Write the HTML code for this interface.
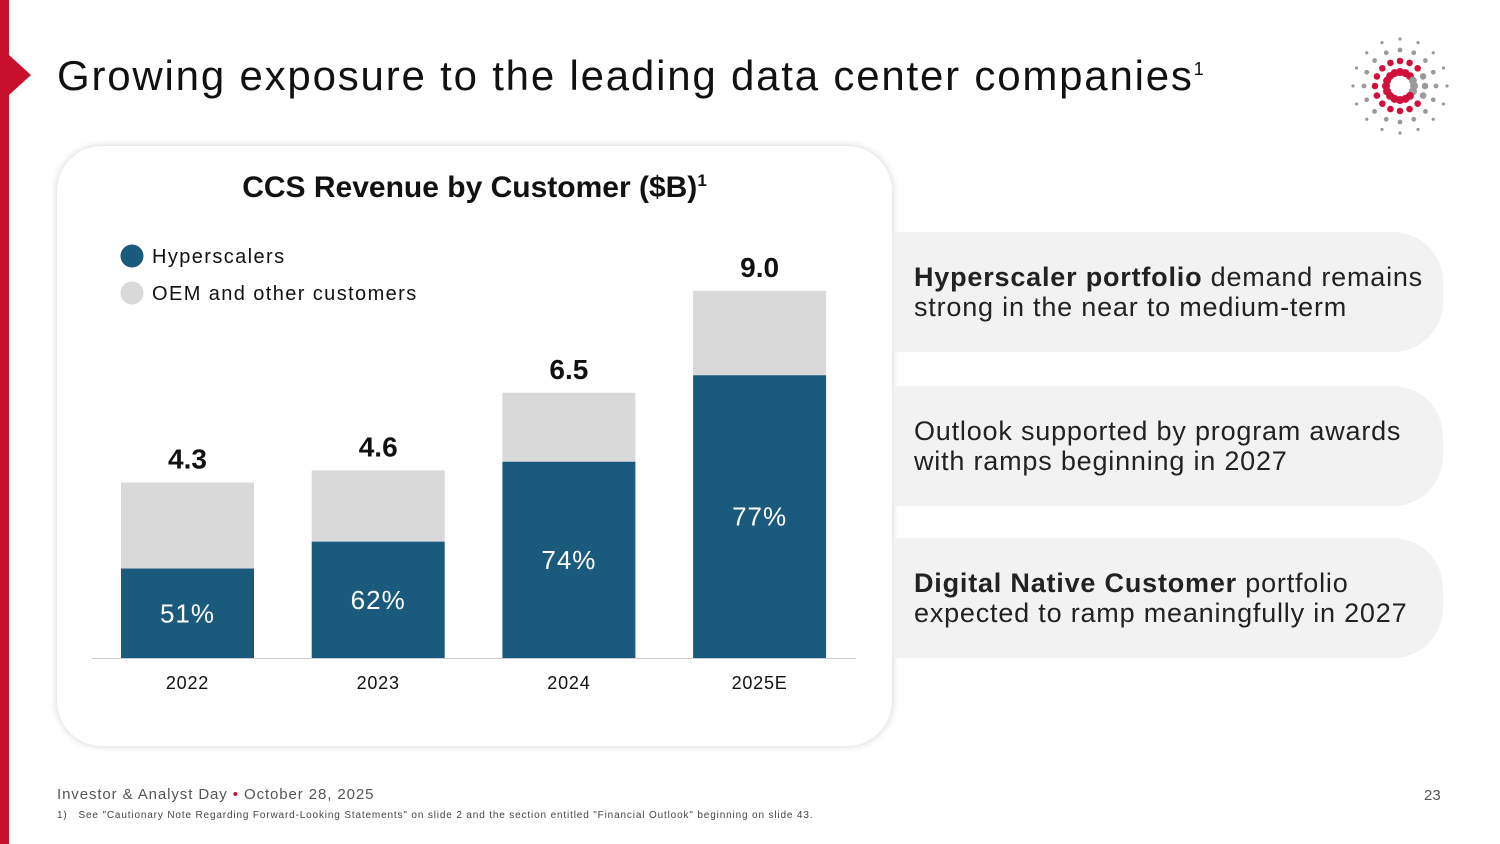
<!DOCTYPE html>
<html><head><meta charset="utf-8"><style>
body{margin:0;width:1500px;height:844px;background:#fff;font-family:"Liberation Sans",sans-serif;position:relative;overflow:hidden}
.abs{position:absolute}
.panel{position:absolute;left:893px;width:550px;height:120px;background:#f2f2f2;border-radius:0 50px 50px 0;font-size:27px;color:#222;box-sizing:border-box;padding-left:21px;line-height:30px;display:flex;flex-direction:column;justify-content:center;letter-spacing:0.8px}
</style></head><body>
<div class="abs" style="left:0;top:0;width:9px;height:844px;background:#c8102e"></div>
<div class="abs" style="left:9px;top:55px;width:0;height:0;border-top:20px solid transparent;border-bottom:20px solid transparent;border-left:22px solid #c8102e"></div>
<div class="abs" style="left:57px;top:52px;font-size:42px;color:#111;letter-spacing:1.8px">Growing exposure to the leading data center companies<sup style="font-size:18px">1</sup></div>
<svg class="abs" style="left:1345px;top:30px" width="110" height="110" id="logo"></svg>

<div class="abs" style="left:57px;top:146px;width:835px;height:600px;border-radius:45px;background:#fff;box-shadow:0 0 8px rgba(0,0,0,0.18)"></div>
<div class="abs" style="left:57px;width:835px;text-align:center;top:171px;font-size:30px;font-weight:bold;color:#111">CCS Revenue by Customer ($B)<sup style="font-size:17px">1</sup></div>
<svg class="abs" id="chart" style="left:0;top:0" width="900" height="760"></svg>

<div class="panel" style="top:232px"><div><b>Hyperscaler portfolio</b> demand remains</div><div>strong in the near to medium-term</div></div>
<div class="panel" style="top:386px"><div>Outlook supported by program awards</div><div>with ramps beginning in 2027</div></div>
<div class="panel" style="top:538px"><div><b>Digital Native Customer</b> portfolio</div><div>expected to ramp meaningfully in 2027</div></div>

<div class="abs" style="left:57px;top:786px;font-size:15px;color:#555;letter-spacing:0.9px">Investor &amp; Analyst Day <span style="color:#c8102e">•</span> October 28, 2025</div>
<div class="abs" style="left:57px;top:810px;font-size:10px;color:#444;letter-spacing:0.85px">1)&nbsp;&nbsp; See "Cautionary Note Regarding Forward-Looking Statements" on slide 2 and the section entitled "Financial Outlook" beginning on slide 43.</div>
<div class="abs" style="left:1424px;top:787px;font-size:15px;color:#555">23</div>
<script>
const categories=["2022","2023","2024","2025E"];
const totals=[4.3,4.6,6.5,9.0];
const hyperShare=[51,62,74,77];
const totalLabels=["4.3","4.6","6.5","9.0"];
const NS="http://www.w3.org/2000/svg";
const svg=document.getElementById('chart');
const base=658, pxPer=40.8, barW=133, x0=121, step=190.7;
function y(v){return base-v*pxPer;}
function bx(i){return x0+i*step;}
function mk(t,a,parent){const e=document.createElementNS(NS,t);for(const k in a)e.setAttribute(k,a[k]);(parent||svg).appendChild(e);return e;}
categories.forEach((c,i)=>{
 const h=totals[i]*hyperShare[i]/100;
 let r=mk('rect',{x:bx(i),y:y(totals[i]),width:barW,height:totals[i]*pxPer-h*pxPer,fill:'#d9d9d9'});
 
 
 r=mk('rect',{x:bx(i),y:y(h),width:barW,height:h*pxPer,fill:'#1a5a7c'});
 
 
 let t=mk('text',{x:bx(i)+barW/2,y:y(h/2)+9,'text-anchor':'middle','font-size':26,fill:'#fff','font-family':'Liberation Sans','letter-spacing':1});t.textContent=hyperShare[i]+'%';
 
 
 t=mk('text',{x:bx(i)+barW/2,y:y(totals[i])-14,'text-anchor':'middle','font-size':28,'font-weight':'bold',fill:'#111','font-family':'Liberation Sans'});t.textContent=totalLabels[i];
 
 
 t=mk('text',{x:bx(i)+barW/2,y:689,'text-anchor':'middle','font-size':18,fill:'#111','font-family':'Liberation Sans','letter-spacing':0.8});t.textContent=c;
 
 
});
let ax=mk('line',{x1:92,x2:856,y1:658.5,y2:658.5,stroke:'#ccc','stroke-width':1});


[["Hyperscalers","#1a5a7c",256],["OEM and other customers","#d9d9d9",293]].forEach(([l,c,yy])=>{
 const g=mk('g',{});
 
 
 mk('circle',{cx:132,cy:yy,r:11.5,fill:c},g);
 const t=mk('text',{x:152,y:yy+7,'font-size':20,fill:'#111','font-family':'Liberation Sans','letter-spacing':1.4},g);t.textContent=l;
});
// logo
const lg=document.getElementById('logo');
const cx=55,cy=56;
for(let k=0;k<16;k++){
 const a=k*Math.PI/8;
 for(let j=0;j<4;j++){
  const rr=14+j*11;
  const px=cx+rr*Math.cos(a), py=cy+rr*Math.sin(a);
  const red=(j<2)&&!(Math.cos(a)>0.9);
  const e=document.createElementNS(NS,'circle');
  e.setAttribute('cx',px);e.setAttribute('cy',py);e.setAttribute('r',[4,3.3,2.4,1.6][j]);
  e.setAttribute('fill',red?'#d0103a':'#9a9a9a');
  lg.appendChild(e);
 }
}
</script>
</body></html>
